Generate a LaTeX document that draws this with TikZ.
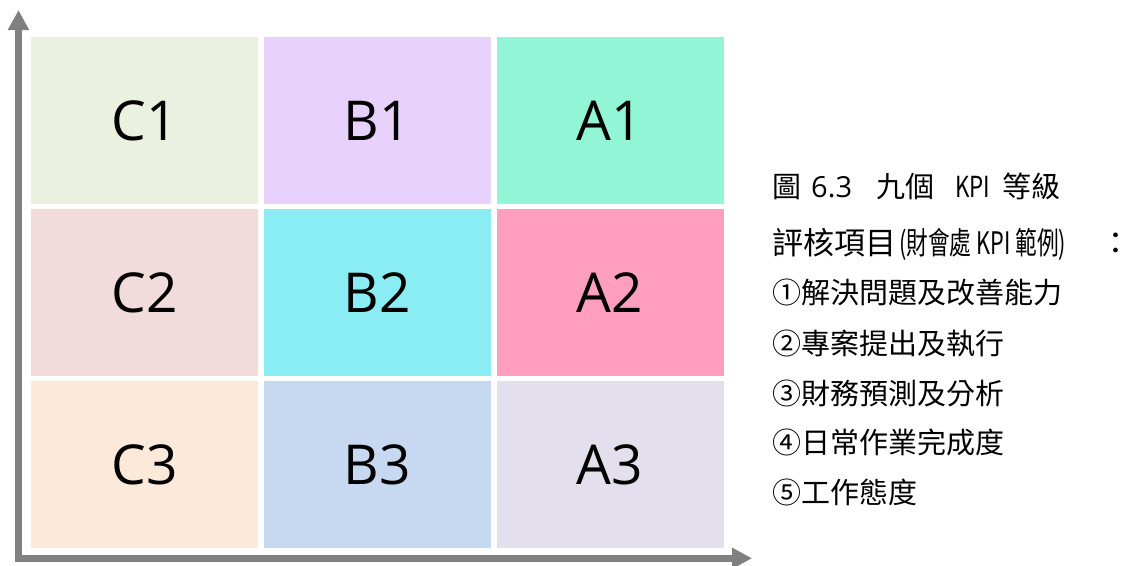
\documentclass[tikz,border=0pt]{standalone}
\usepackage{fontspec}
\usepackage{graphicx}
\setmainfont{Noto Sans CJK TC}
\newfontfamily\latinf{Open Sans}
\usetikzlibrary{arrows.meta}
\definecolor{cCa}{HTML}{EAF1DE}
\definecolor{cBa}{HTML}{E8D2FB}
\definecolor{cAa}{HTML}{92F5D6}
\definecolor{cCb}{HTML}{F1DCDB}
\definecolor{cBb}{HTML}{8AEDF3}
\definecolor{cAb}{HTML}{FF9EBF}
\definecolor{cCc}{HTML}{FDE9D9}
\definecolor{cBc}{HTML}{C6D9F1}
\definecolor{cAc}{HTML}{E4DFEC}
\definecolor{axisgray}{HTML}{808080}
\tikzset{
  cell/.style={draw=none, minimum width=227pt, minimum height=167pt, inner sep=0pt,
    font=\latinf\fontsize{55pt}{60pt}\selectfont, text=black},
  axisline/.style={draw=axisgray, line width=7pt, -{Triangle[width=20pt,length=20pt]}},
  info/.style={anchor=base west, inner sep=0pt, font=\fontsize{29pt}{32pt}\selectfont},
}
\begin{document}
\begin{tikzpicture}[x=1pt,y=-1pt]
\useasboundingbox (0,0) rectangle (1134,565);
% cells
\node[cell, fill=cCa] (C1) at (144.5,120.5) {C1};
\node[cell, fill=cBa] (B1) at (377.5,120.5) {B1};
\node[cell, fill=cAa] (A1) at (610,120.5) {A1};
\node[cell, fill=cCb] (C2) at (144.5,292.5) {C2};
\node[cell, fill=cBb] (B2) at (377.5,292.5) {B2};
\node[cell, fill=cAb] (A2) at (610,292.5) {A2};
\node[cell, fill=cCc] (C3) at (144.5,464.5) {C3};
\node[cell, fill=cBc] (B3) at (377.5,464.5) {B3};
\node[cell, fill=cAc] (A3) at (610,464.5) {A3};
% axes
\coordinate (o) at (18.5,562);
\coordinate (top) at (18.5,10);
\coordinate (oh) at (15,558.3);
\coordinate (right) at (752,558.3);
\draw[axisline] (o) -- (top);
\draw[axisline] (oh) -- (right);
% text
\node[info] (t1) at (772,197) {\makebox[39pt][l]{圖}\makebox[65pt][l]{{\latinf 6.3}}\makebox[79pt][l]{九個}\makebox[47pt][l]{\resizebox{35pt}{\height}{KPI}}等級};
\node[info, font=\fontsize{31pt}{34pt}\selectfont] (t2) at (772,254) {評核項目\hspace{3pt}\resizebox{167pt}{\height}{\fontsize{31pt}{34pt}\selectfont (財會處 KPI 範例)}\hspace{34pt}：};
\node[info] (t3) at (772,303) {①解決問題及改善能力};
\node[info] (t4) at (772,354) {②專案提出及執行};
\node[info] (t5) at (772,404) {③財務預測及分析};
\node[info] (t6) at (772,453) {④日常作業完成度};
\node[info] (t7) at (772,503) {⑤工作態度};
\end{tikzpicture}
\end{document}
